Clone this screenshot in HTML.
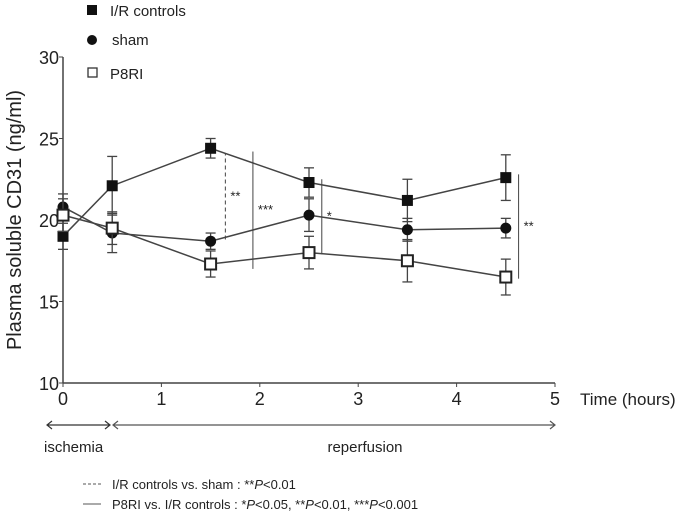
<!DOCTYPE html>
<html><head><meta charset="utf-8"><style>
body{margin:0;background:#fff}
svg text{font-family:"Liberation Sans",sans-serif;fill:#222}
</style></head><body>
<svg width="685" height="513" xmlns="http://www.w3.org/2000/svg">
<g id="plot"></g>
</svg>
<script>
const times=[0,0.5,1.5,2.5,3.5,4.5];
const irMean=[19.0,22.1,24.4,22.3,21.2,22.6];
const irErr=[0.8,1.8,0.6,0.9,1.3,1.4];
const shamMean=[20.8,19.2,18.7,20.3,19.4,19.5];
const shamErr=[0.8,1.2,0.5,1.0,0.7,0.6];
const p8Mean=[20.3,19.5,17.3,18.0,17.5,16.5];
const p8Err=[1.0,1.0,0.8,1.0,1.3,1.1];
const xTicks=[0,1,2,3,4,5];
const yTicks=[10,15,20,25,30];
const sigBars=[{t:1.65,lo:18.8,hi:24.1,label:"**",dash:true},{t:1.93,lo:17.0,hi:24.2,label:"***",dash:false},{t:2.63,lo:17.9,hi:22.5,label:"*",dash:false},{t:4.63,lo:16.4,hi:22.8,label:"**",dash:false}];

const X=t=>63+t*98.4, Y=v=>383-(v-10)*16.3;
const g=document.getElementById('plot');const NS="http://www.w3.org/2000/svg";
function el(tag,a,txt){const e=document.createElementNS(NS,tag);for(const k in a)e.setAttribute(k,a[k]);if(txt!=null)e.textContent=txt;g.appendChild(e);return e;}
let e;
e=el('line',{x1:X(0),y1:Y(10),x2:X(5),y2:Y(10),stroke:'#444','stroke-width':1.5});


e=el('line',{x1:X(0),y1:Y(10),x2:X(0),y2:Y(30),stroke:'#444','stroke-width':1.5});


xTicks.forEach(t=>{
 el('line',{x1:X(t),y1:Y(10),x2:X(t),y2:Y(10)+4,stroke:'#444'});
 e=el('text',{x:X(t),y:Y(10)+22,'font-size':18,'text-anchor':'middle'},t);
 
 
});
yTicks.forEach(v=>{
 el('line',{x1:X(0)-4,y1:Y(v),x2:X(0),y2:Y(v),stroke:'#444'});
 e=el('text',{x:X(0)-4,y:Y(v)+7,'font-size':18,'text-anchor':'end'},v);
 
 
});
e=el('text',{x:0,y:0,'font-size':20,'text-anchor':'middle',transform:'translate(21,220) rotate(-90)'},'Plasma soluble CD31 (ng/ml)');


e=el('text',{x:580,y:405,'font-size':17},'Time (hours)');


function series(mean,err,name,marker){
 const pts=times.map((t,i)=>X(t)+','+Y(mean[i])).join(' ');
 e=el('polyline',{points:pts,fill:'none',stroke:'#444','stroke-width':1.5});
 
 
 times.forEach((t,i)=>{
  const x=X(t);
  el('line',{x1:x,y1:Y(mean[i]-err[i]),x2:x,y2:Y(mean[i]+err[i]),stroke:'#444','stroke-width':1.3});
  el('line',{x1:x-5,y1:Y(mean[i]-err[i]),x2:x+5,y2:Y(mean[i]-err[i]),stroke:'#444','stroke-width':1.3});
  el('line',{x1:x-5,y1:Y(mean[i]+err[i]),x2:x+5,y2:Y(mean[i]+err[i]),stroke:'#444','stroke-width':1.3});
  const y=Y(mean[i]);
  if(marker==='sq')e=el('rect',{x:x-5.5,y:y-5.5,width:11,height:11,fill:'#111'});
  else if(marker==='circ')e=el('circle',{cx:x,cy:y,r:5.5,fill:'#111'});
  else e=el('rect',{x:x-5.5,y:y-5.5,width:11,height:11,fill:'#fff',stroke:'#222','stroke-width':2});
  
  
 });
}
series(irMean,irErr,'ir-controls','sq');
series(shamMean,shamErr,'sham','circ');
series(p8Mean,p8Err,'p8ri','open');
sigBars.forEach(s=>{
 e=el('line',{x1:X(s.t),y1:Y(s.lo),x2:X(s.t),y2:Y(s.hi),stroke:'#444','stroke-width':1,'stroke-dasharray':s.dash?'4,3':'none'});
 
 
 e=el('text',{x:X(s.t)+5,y:(Y(s.lo)+Y(s.hi))/2+4,'font-size':13},s.label);
 
 
});
// legend
e=el('rect',{x:87,y:5,width:10,height:10,fill:'#111'});
e=el('text',{x:110,y:16,'font-size':15},'I/R controls');
e=el('circle',{cx:92,cy:40,r:5,fill:'#111'});
e=el('text',{x:112,y:45,'font-size':15},'sham');
e=el('rect',{x:88,y:68,width:9,height:9,fill:'#fff',stroke:'#333','stroke-width':1.3});
e=el('text',{x:110,y:79,'font-size':15},'P8RI');
// phase arrows
e=el('path',{d:'M47,425 H110 M52,421 L47,425 L52,429 M105,421 L110,425 L105,429',fill:'none',stroke:'#333','stroke-width':1.2});
e=el('path',{d:'M113,425 H555 M118,421 L113,425 L118,429 M550,421 L555,425 L550,429',fill:'none',stroke:'#555','stroke-width':1.2});
e=el('text',{x:44,y:452,'font-size':15},'ischemia');
e=el('text',{x:365,y:452,'font-size':15,'text-anchor':'middle'},'reperfusion');
// footnotes
e=el('line',{x1:83,y1:484,x2:101,y2:484,stroke:'#555','stroke-dasharray':'3,2'});
e=el('text',{x:112,y:489,'font-size':13});e.innerHTML='I/R controls vs. sham : **<tspan font-style="italic">P</tspan>&lt;0.01';
e=el('line',{x1:83,y1:504,x2:101,y2:504,stroke:'#555'});
e=el('text',{x:112,y:509,'font-size':13});e.innerHTML='P8RI vs. I/R controls : *<tspan font-style="italic">P</tspan>&lt;0.05, **<tspan font-style="italic">P</tspan>&lt;0.01, ***<tspan font-style="italic">P</tspan>&lt;0.001';
</script>
</body></html>
